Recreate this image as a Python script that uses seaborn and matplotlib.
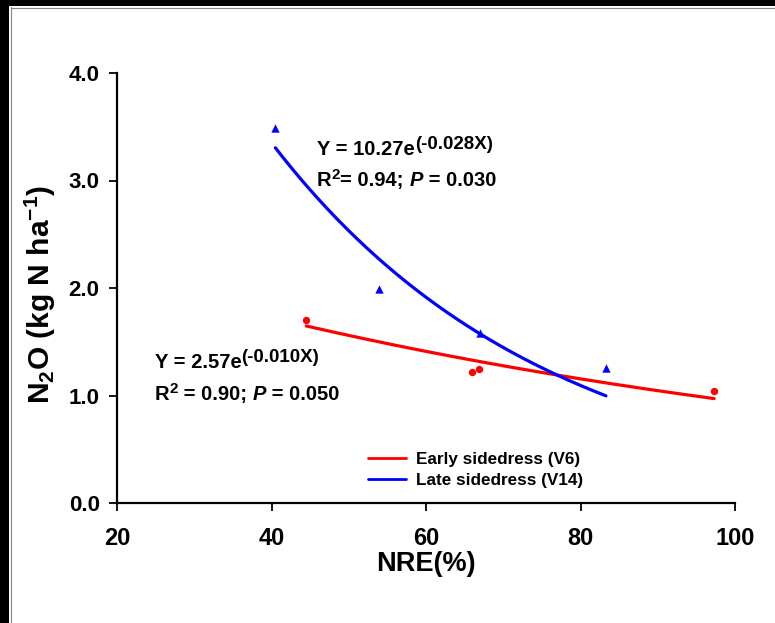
import numpy as np
import pandas as pd
import matplotlib
matplotlib.use("Agg")
import matplotlib.pyplot as plt
from matplotlib.lines import Line2D
from matplotlib.patches import Rectangle
import seaborn as sns

# ---- data ----
early_nre = [44.5, 65.9, 66.9, 97.3]
early_n2o = [1.70, 1.22, 1.25, 1.045]
late_nre = [40.5, 53.9, 67.0, 83.3]
late_n2o = [3.49, 1.99, 1.58, 1.26]

# fitted exponential models printed on the chart: Y = a * exp(b X)
early_a, early_b = 2.57, -0.010
late_a, late_b = 10.27, -0.028

series_names = ["Early sidedress (V6)", "Late sidedress (V14)"]
x_ticks = [20, 40, 60, 80, 100]
y_ticks = [0.0, 1.0, 2.0, 3.0, 4.0]

sns.set_theme(style="ticks")
plt.rcParams["font.family"] = ["Liberation Sans", "DejaVu Sans"]
plt.rcParams["font.weight"] = "bold"
plt.rcParams["text.color"] = "black"
plt.rcParams["axes.labelcolor"] = "black"
plt.rcParams["xtick.color"] = "black"
plt.rcParams["ytick.color"] = "black"
plt.rcParams["mathtext.fontset"] = "custom"
plt.rcParams["mathtext.rm"] = "Liberation Sans:bold"
plt.rcParams["mathtext.bf"] = "Liberation Sans:bold"
plt.rcParams["mathtext.it"] = "Liberation Sans:bold:italic"

fig = plt.figure(figsize=(7.75, 6.23), dpi=100)
fig.patch.set_facecolor("white")
# black border strips and thin gray frame lines of the original picture
fig.add_artist(Rectangle((0, 0), 9 / 775, 1, transform=fig.transFigure,
                         facecolor="black", edgecolor="none", zorder=0))
fig.add_artist(Rectangle((0, 1 - 6 / 623), 1, 6 / 623, transform=fig.transFigure,
                         facecolor="black", edgecolor="none", zorder=0))
fig.add_artist(Line2D([11 / 775, 11 / 775], [0, 1 - 7 / 623], transform=fig.transFigure,
                      color="#888888", lw=0.8))
fig.add_artist(Line2D([11 / 775, 1], [1 - 7.5 / 623, 1 - 7.5 / 623], transform=fig.transFigure,
                      color="#888888", lw=0.8))

ax = fig.add_axes([117 / 775, 1 - 503 / 623, (735 - 117) / 775, (503 - 73) / 623])
ax.set_facecolor("white")

early_df = pd.DataFrame({"NRE": early_nre, "N2O": early_n2o})
late_df = pd.DataFrame({"NRE": late_nre, "N2O": late_n2o})

xe = np.linspace(min(early_nre), max(early_nre), 200)
xl = np.linspace(min(late_nre), max(late_nre), 200)
early_fit = pd.DataFrame({"NRE": xe, "N2O": early_a * np.exp(early_b * xe)})
late_fit = pd.DataFrame({"NRE": xl, "N2O": late_a * np.exp(late_b * xl)})

sns.lineplot(data=early_fit, x="NRE", y="N2O", ax=ax, color="#ff0000", lw=2.3)
sns.lineplot(data=late_fit, x="NRE", y="N2O", ax=ax, color="#0000ff", lw=2.3)
sns.scatterplot(data=early_df, x="NRE", y="N2O", ax=ax, color="#ff0000",
                marker="o", s=28, linewidth=0)
sns.scatterplot(data=late_df, x="NRE", y="N2O", ax=ax, color="#0000ff",
                marker="^", s=36, linewidth=0)

ax.set_xlim(20, 100)
ax.set_ylim(0, 4)
ax.set_xticks(x_ticks)
ax.set_xticklabels([f"{v:d}" for v in x_ticks], fontsize=17, fontweight="bold")
ax.set_yticks(y_ticks)
ax.set_yticklabels([f"{v:.1f}" for v in y_ticks], fontsize=16, fontweight="bold")
for s in ["top", "right"]:
    ax.spines[s].set_visible(False)
for s in ["left", "bottom"]:
    ax.spines[s].set_linewidth(1.6)
    ax.spines[s].set_color("black")
ax.tick_params(axis="both", direction="out", length=6, width=1.3, color="black")
ax.tick_params(axis="x", pad=11)
ax.tick_params(axis="y", pad=6.5)

ax.set_xlabel("NRE(%)", fontsize=19.5, fontweight="bold", labelpad=1)
ax.set_ylabel(r"N$_2$O (kg N ha$^{-1}$)", fontsize=21.5, fontweight="bold")
ax.yaxis.set_label_coords(-0.096, 0.486)


def equation(x, y, base, sup, size=14.5, sup_size=13.5, raise_pt=4.6):
    t = ax.text(x, y, base, fontsize=size, fontweight="bold", va="baseline", ha="left")
    ax.annotate(sup, xy=(1, 0), xycoords=t, xytext=(0, raise_pt),
                textcoords="offset points", fontsize=sup_size, fontweight="bold",
                va="bottom", ha="left")


def stats(x, y, r2_text, p_text, size=14.5, sup_size=11, raise_pt=5.5):
    t1 = ax.text(x, y, "R", fontsize=size, fontweight="bold", va="baseline", ha="left")
    t2 = ax.annotate("2", xy=(1, 0), xycoords=t1, xytext=(0, raise_pt),
                     textcoords="offset points", fontsize=sup_size, fontweight="bold",
                     va="bottom", ha="left")
    t3 = ax.annotate(r2_text, xy=(1, 0), xycoords=t2, xytext=(0, -raise_pt),
                     textcoords="offset points", fontsize=size, fontweight="bold",
                     va="bottom", ha="left")
    t4 = ax.annotate("P", xy=(1, 0), xycoords=t3, xytext=(0, 0),
                     textcoords="offset points", fontsize=size, fontweight="bold",
                     style="italic", va="bottom", ha="left")
    ax.annotate(p_text, xy=(1, 0), xycoords=t4, xytext=(0, 0),
                textcoords="offset points", fontsize=size, fontweight="bold",
                va="bottom", ha="left")


equation(45.9, 3.237, "Y = 10.27e", "(-0.028X)")
stats(45.9, 2.949, "= 0.94; ", " = 0.030")
equation(24.9, 1.253, "Y = 2.57e", "(-0.010X)")
stats(24.9, 0.958, " = 0.90; ", " = 0.050")

handles = [Line2D([0], [0], color="#ff0000", lw=2.0),
           Line2D([0], [0], color="#0000ff", lw=2.0)]
leg = ax.legend(handles, series_names, loc="center left",
                bbox_to_anchor=((368 - 117) / 618, 1 - (470 - 73) / 430),
                frameon=False, prop={"weight": "bold", "size": 12.3},
                handlelength=2.2, handletextpad=0.6, labelspacing=0.32,
                borderaxespad=0, borderpad=0)

fig.savefig("out.png", dpi=100, facecolor="white")
